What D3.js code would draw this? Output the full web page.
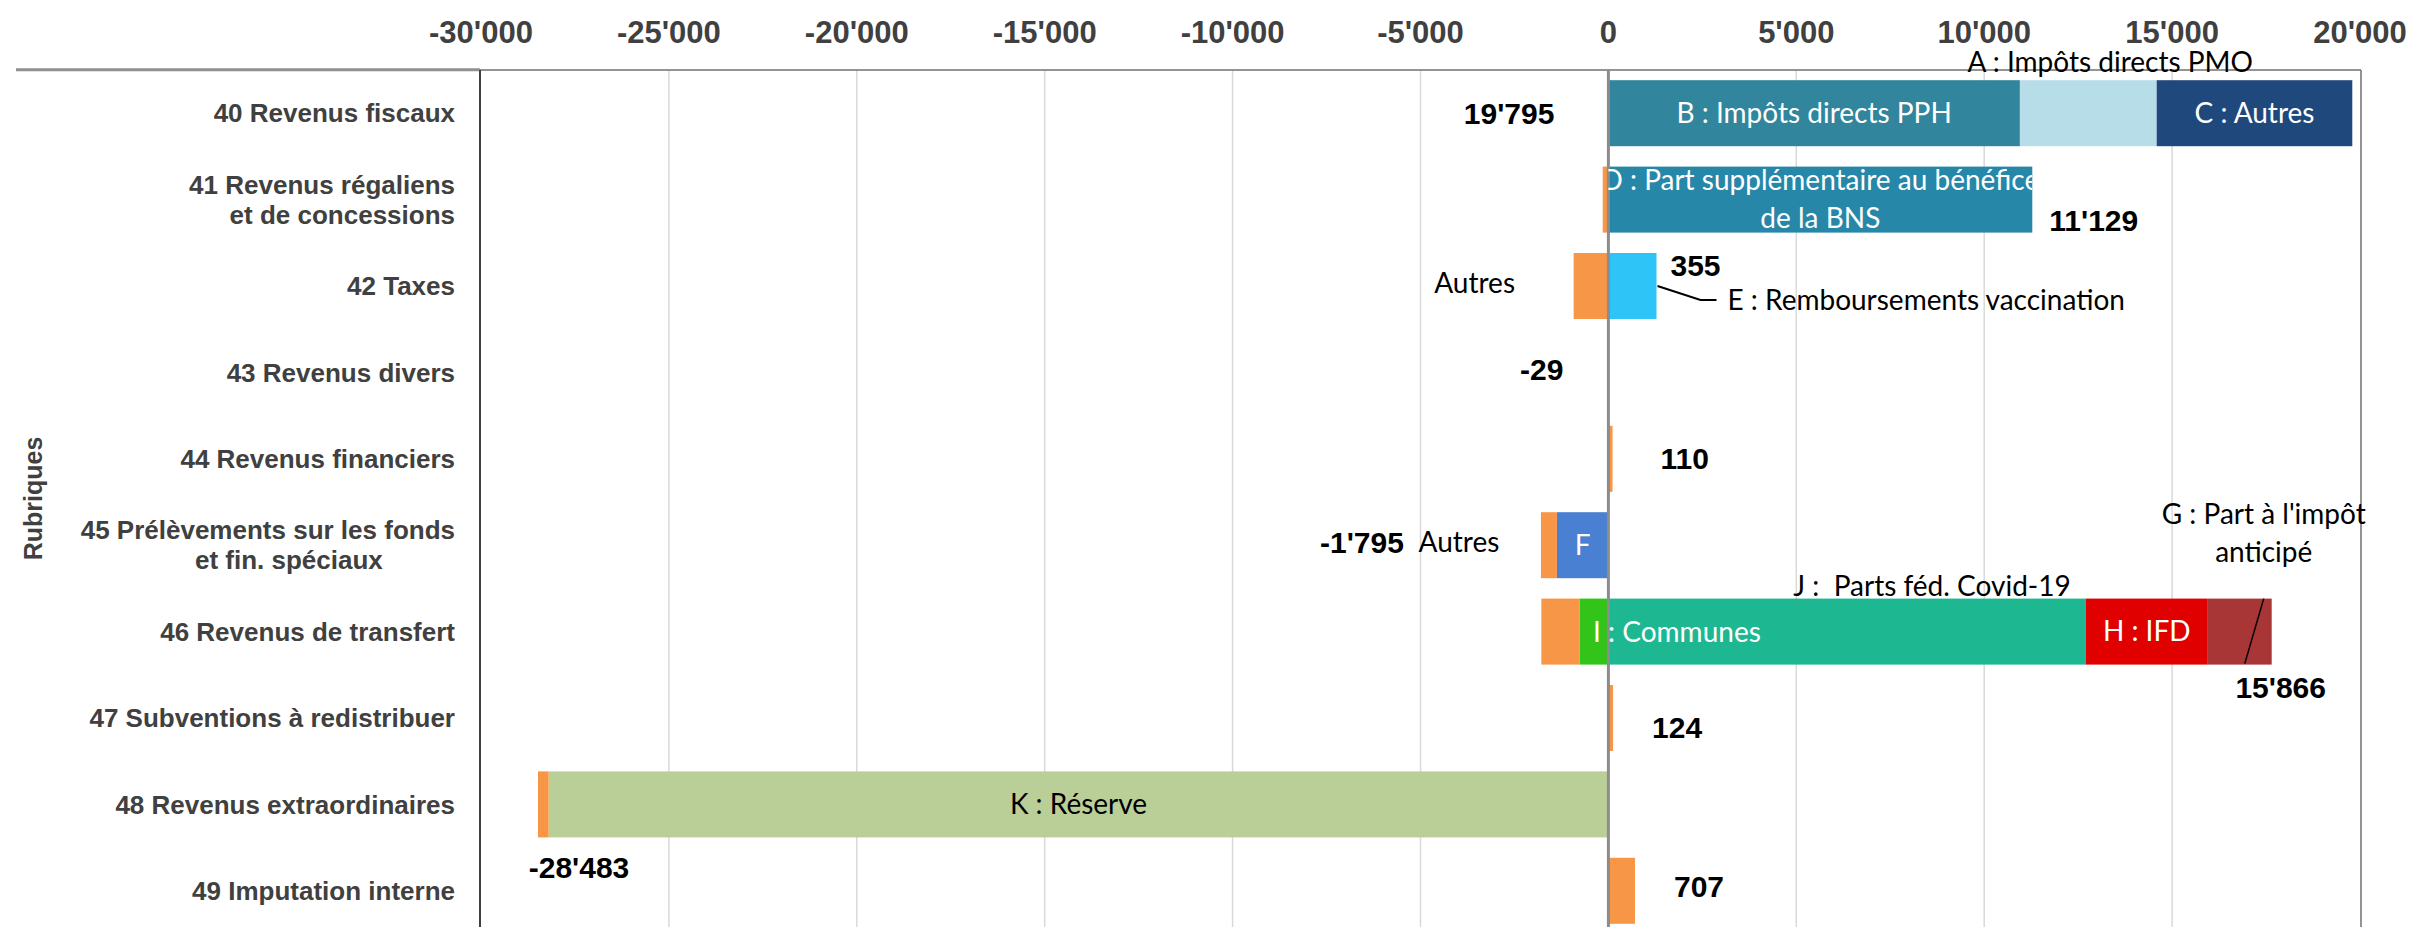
<!DOCTYPE html>
<html>
<head>
<meta charset="utf-8">
<script src="https://d3js.org/d3.v7.min.js"></script>
<style>
	body { margin: 0; background: #fff; }
	.tick-label { font-family: "Liberation Sans", Arial, sans-serif; font-weight: bold; font-size: 31px; fill: #404040; }
	.cat-label { font-family: "Liberation Sans", Arial, sans-serif; font-weight: bold; font-size: 26px; fill: #404040; white-space: pre; }
	.axis-title { font-family: "Liberation Sans", Arial, sans-serif; font-weight: bold; font-size: 25px; fill: #404040; }
	.total-label { font-family: "Liberation Sans", Arial, sans-serif; font-weight: bold; font-size: 30px; fill: #000; }
	.seg-label { font-family: Lato, "Open Sans", sans-serif; font-size: 28px; white-space: pre; }
</style>
</head>
<body>
<div class="chart"></div>
<script>
	var w = 2413, h = 927;

	var categories = [
		"40 Revenus fiscaux",
		"41 Revenus régaliens\net de concessions",
		"42 Taxes",
		"43 Revenus divers",
		"44 Revenus financiers",
		"45 Prélèvements sur les fonds\net fin. spéciaux\u00a0\u00a0\u00a0\u00a0\u00a0\u00a0\u00a0\u00a0\u00a0\u00a0",
		"46 Revenus de transfert",
		"47 Subventions à redistribuer",
		"48 Revenus extraordinaires",
		"49 Imputation interne"
	];
	var tickValues = [-30000, -25000, -20000, -15000, -10000, -5000, 0, 5000, 10000, 15000, 20000];

	// one array per component, one value per rubrique
	var seriesB = [10950, 0, 0, 0, 0, 0, 0, 0, 0, 0];
	var seriesA = [3640, 0, 0, 0, 0, 0, 0, 0, 0, 0];
	var seriesC = [5205, 0, 0, 0, 0, 0, 0, 0, 0, 0];
	var seriesD = [0, 11280, 0, 0, 0, 0, 0, 0, 0, 0];
	var seriesE = [0, 0, 1280, 0, 0, 0, 0, 0, 0, 0];
	var seriesF = [0, 0, 0, 0, 0, -1370, 0, 0, 0, 0];
	var seriesJ = [0, 0, 0, 0, 0, 0, 12700, 0, 0, 0];
	var seriesH = [0, 0, 0, 0, 0, 0, 3250, 0, 0, 0];
	var seriesG = [0, 0, 0, 0, 0, 0, 1700, 0, 0, 0];
	var seriesI = [0, 0, 0, 0, 0, 0, -760, 0, 0, 0];
	var seriesK = [0, 0, 0, 0, 0, 0, 0, 0, -28200, 0];
	var seriesAutres = [0, -151, -925, -29, 110, -425, -1024, 124, -283, 707];

	var keys = ["B", "A", "C", "D", "E", "F", "J", "H", "G", "I", "K", "Autres"];
	var seriesLabels = {
		A: "A : Impôts directs PMO", B: "B : Impôts directs PPH", C: "C : Autres",
		D: "D : Part supplémentaire au bénéfice\nde la BNS", E: "E : Remboursements vaccination",
		F: "F", G: "G : Part à l'impôt\nanticipé", H: "H : IFD", I: "I : Communes",
		J: "J :  Parts féd. Covid-19", K: "K : Réserve", Autres: "Autres"
	};
	var colors = {
		A: "#b7dde8", B: "#31859c", C: "#1f497d", D: "#2787a8", E: "#2fc4f7", F: "#4a80d1",
		G: "#a83636", H: "#e00000", I: "#33c41a", J: "#1db891", K: "#bacf98", Autres: "#f79646"
	};

	var series = { A: seriesA, B: seriesB, C: seriesC, D: seriesD, E: seriesE, F: seriesF,
		G: seriesG, H: seriesH, I: seriesI, J: seriesJ, K: seriesK, Autres: seriesAutres };
	var table = categories.map(function(c, i) {
		var row = { cat: c };
		keys.forEach(function(k) { row[k] = series[k][i]; });
		return row;
	});
	var totals = table.map(function(r) { return d3.sum(keys, function(k) { return r[k]; }); });

	var loc = d3.formatLocale({ decimal: ".", thousands: "'", grouping: [3], currency: ["", ""], minus: "-" });
	var fmt = loc.format(",d");

	var plotL = 480, plotR = 2361, plotT = 70, plotB = 934;
	var x = d3.scaleLinear().domain([-30000, 20000]).range([481, 2360]);
	var y = d3.scaleBand().domain(categories).range([plotT, plotB]).paddingInner(0.236).paddingOuter(0.118);
	var bw = y.bandwidth();
	function cy(i) { return y(categories[i]) + bw / 2; }

	var svg = d3.select(".chart").append("svg").attr("width", w).attr("height", h);

	// grid
	svg.append("g").selectAll("line")
		.data(tickValues.filter(function(v) { return v > -30000 && v < 20000 && v != 0; }))
		.enter().append("line")
		.attr("x1", function(d) { return x(d); }).attr("x2", function(d) { return x(d); })
		.attr("y1", plotT).attr("y2", h)
		.attr("stroke", "#d9d9d9").attr("stroke-width", 1.5);

	// tick labels
	svg.append("g").selectAll("text")
		.data(tickValues).enter().append("text")
		.attr("class", "tick-label")
		.attr("x", function(d) { return x(d); })
		.attr("y", 43)
		.attr("text-anchor", "middle")
		.text(function(d) { return fmt(d); });

	// bars
	var stacked = d3.stack().keys(keys).offset(d3.stackOffsetDiverging)(table);
	var segs = {};
	var gBars = svg.append("g");
	stacked.forEach(function(s) {
		s.forEach(function(d, i) {
			if (d[0] == d[1]) return;
			var x0 = x(Math.min(d[0], d[1])), x1 = x(Math.max(d[0], d[1]));
			segs[s.key + i] = { x0: x0, x1: x1, mid: (x0 + x1) / 2 };
			gBars.append("rect")
				.attr("x", x0).attr("width", Math.max(1, x1 - x0))
				.attr("y", y(categories[i])).attr("height", bw)
				.attr("fill", colors[s.key]);
		});
	});

	// frame
	svg.append("line").attr("x1", 16).attr("x2", plotL).attr("y1", 69.7).attr("y2", 69.7)
		.attr("stroke", "#909090").attr("stroke-width", 3);
	svg.append("line").attr("x1", plotL).attr("x2", plotR).attr("y1", plotT).attr("y2", plotT)
		.attr("stroke", "#707070").attr("stroke-width", 1.5);
	svg.append("line").attr("x1", plotR).attr("x2", plotR).attr("y1", plotT).attr("y2", h)
		.attr("stroke", "#707070").attr("stroke-width", 1.5);
	svg.append("line").attr("x1", plotL).attr("x2", plotL).attr("y1", plotT).attr("y2", h)
		.attr("stroke", "#404040").attr("stroke-width", 2);
	svg.append("line").attr("x1", x(0)).attr("x2", x(0)).attr("y1", plotT).attr("y2", h)
		.attr("stroke", "#8c8c8c").attr("stroke-width", 3);

	// category labels
	var gCat = svg.append("g");
	categories.forEach(function(c, i) {
		var lines = c.split("\n");
		var t = gCat.append("text").attr("class", "cat-label").attr("text-anchor", "end");
		lines.forEach(function(l, j) {
			t.append("tspan").attr("x", 455)
				.attr("y", cy(i) + (j - (lines.length - 1) / 2) * 30)
				.attr("dy", "0.35em").text(l);
		});
	});
	svg.append("text").attr("class", "axis-title")
		.attr("transform", "translate(42," + ((plotT + h) / 2) + ") rotate(-90)")
		.attr("text-anchor", "middle").text("Rubriques");

	// segment labels
	var gLab = svg.append("g");
	function segText(key, i, tx, ty, anchor, fill) {
		var lines = seriesLabels[key].split("\n");
		var t = gLab.append("text").attr("class", "seg-label")
			.attr("text-anchor", anchor).attr("fill", fill);
		lines.forEach(function(l, j) {
			t.append("tspan").attr("x", tx).attr("y", ty + j * 38).attr("dy", "0.35em").text(l);
		});
		return t;
	}
	var s;
	s = segs["B0"]; segText("B", 0, s.mid, cy(0), "middle", "#fff");
	s = segs["C0"]; segText("C", 0, s.mid, cy(0), "middle", "#fff");
	s = segs["A0"]; segText("A", 0, s.mid + 22, cy(0) - 51, "middle", "#000");

	s = segs["D1"];
	svg.append("clipPath").attr("id", "clipD").append("rect")
		.attr("x", s.x0).attr("width", s.x1 - s.x0).attr("y", y(categories[1])).attr("height", bw);
	segText("D", 1, s.mid, cy(1) - 19, "middle", "#fff").attr("clip-path", "url(#clipD)");

	s = segs["E2"];
	segText("E", 2, s.x1 + 71, cy(2) + 14, "start", "#000");
	gLab.append("path")
		.attr("d", "M" + (s.x1 + 1) + "," + cy(2) + " L" + (s.x1 + 44) + "," + (cy(2) + 14) + " L" + (s.x1 + 60) + "," + (cy(2) + 14))
		.attr("fill", "none").attr("stroke", "#000").attr("stroke-width", 2);
	s = segs["Autres2"]; segText("Autres", 2, s.x0 - 99, cy(2) - 3, "middle", "#000");

	s = segs["F5"]; segText("F", 5, s.mid, cy(5), "middle", "#fff");
	s = segs["Autres5"]; segText("Autres", 5, s.x0 - 82, cy(5) - 3, "middle", "#000");

	s = segs["I6"]; segText("I", 6, s.mid - 1, cy(6) + 1, "start", "#fff");
	s = segs["H6"]; segText("H", 6, s.mid, cy(6), "middle", "#fff");
	s = segs["J6"]; segText("J", 6, s.mid + 85, y(categories[6]) - 12, "middle", "#000");
	s = segs["G6"]; segText("G", 6, s.mid + 24, cy(6) - 117, "middle", "#000");
	gLab.append("line")
		.attr("x1", s.mid + 24).attr("y1", y(categories[6]))
		.attr("x2", s.mid + 5).attr("y2", y(categories[6]) + bw - 1)
		.attr("stroke", "#000").attr("stroke-width", 1.5);

	s = segs["K8"]; segText("K", 8, s.mid, cy(8), "middle", "#000");

	// totals
	var gTot = svg.append("g");
	function total(i, tx, dy, anchor) {
		gTot.append("text").attr("class", "total-label")
			.attr("x", tx).attr("y", cy(i) + dy).attr("dy", "0.35em")
			.attr("text-anchor", anchor).text(fmt(totals[i]));
	}
	total(0, x(0) - 54, 0, "end");
	total(1, segs["D1"].x1 + 17, 21, "start");
	total(2, segs["E2"].x1 + 14, -21, "start");
	total(3, x(0) - 45, -3, "end");
	total(4, x(totals[4]) + 48, 0, "start");
	total(5, x(totals[5]) - 137, -3, "end");
	total(6, segs["G6"].x1 + 9, 56, "middle");
	total(7, x(totals[7]) + 39, 9, "start");
	total(8, x(totals[8]) + 41, 63, "middle");
	total(9, x(totals[9]) + 39, -4, "start");
</script>
</body>
</html>
